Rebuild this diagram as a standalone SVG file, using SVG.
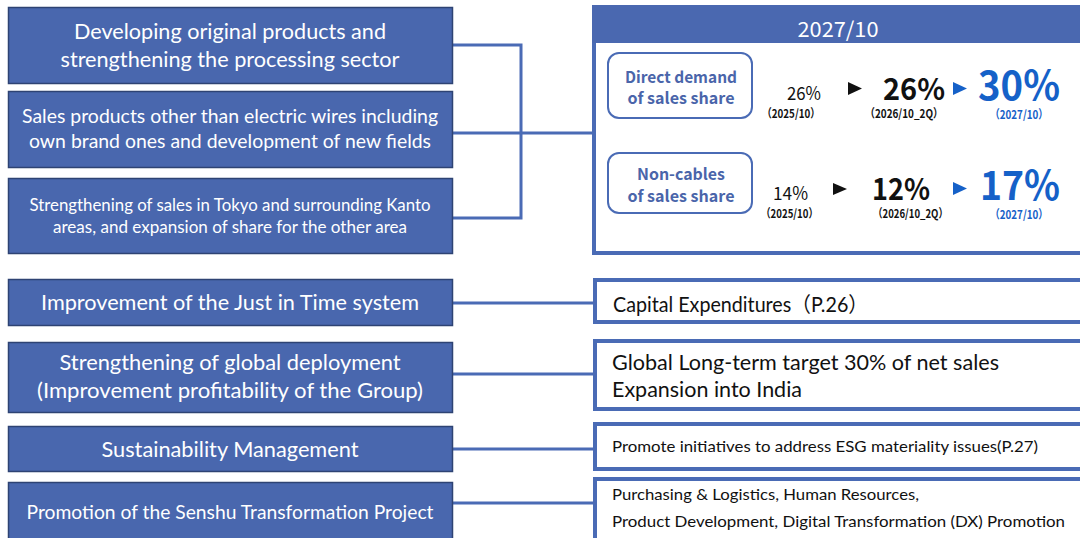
<svg xmlns="http://www.w3.org/2000/svg" width="1080" height="538" viewBox="0 0 1080 538">
<style>
.lb{fill:#4967AE;stroke:#2E4373;stroke-width:1.5}
.lt{fill:#FFFFFF;font-family:Lato,"Open Sans","Liberation Sans",sans-serif;text-anchor:middle}
.rb{fill:#FFFFFF;stroke:#4A6BB5;stroke-width:4}
.rt{fill:#111111;font-family:Lato,"Open Sans","Liberation Sans","Noto Sans CJK JP",sans-serif}
.con{fill:none;stroke:#4A6BB5;stroke-width:3}
.jp{font-family:"Noto Sans CJK JP","Liberation Sans",sans-serif}
.rr{fill:#FFFFFF;stroke:#4A6BB5;stroke-width:2}
.rrt{fill:#4A65AA;font-weight:bold;font-size:16px;text-anchor:middle}
.blk{fill:#111111}
.blu{fill:#1561C8}
</style>
<rect width="1080" height="538" fill="#FFFFFF"/>
<g id="connectors">
<path class="con" d="M453,45 H521 V218 H453"/>
<path class="con" d="M453,133 H594"/>
<path class="con" d="M453,303 H594"/>
<path class="con" d="M453,374 H594"/>
<path class="con" d="M453,449 H594"/>
<path class="con" d="M453,503 H594"/>
</g>
<g id="node-developing">
<rect class="lb" x="8.5" y="7.5" width="444" height="76"/>
<text class="lt" x="230" y="39" font-size="21" textLength="312" lengthAdjust="spacingAndGlyphs">Developing original products and</text>
<text class="lt" x="230" y="67" font-size="21" textLength="339" lengthAdjust="spacingAndGlyphs">strengthening the processing sector</text>
</g>
<g id="node-sales-products">
<rect class="lb" x="8.5" y="91.5" width="444" height="76"/>
<text class="lt" x="230" y="123" font-size="19" textLength="416" lengthAdjust="spacingAndGlyphs">Sales products other than electric wires including</text>
<text class="lt" x="230" y="148" font-size="19" textLength="402" lengthAdjust="spacingAndGlyphs">own brand ones and development of new fields</text>
</g>
<g id="node-tokyo">
<rect class="lb" x="8.5" y="178.5" width="444" height="75"/>
<text class="lt" x="230" y="211" font-size="17" textLength="401" lengthAdjust="spacingAndGlyphs">Strengthening of sales in Tokyo and surrounding Kanto</text>
<text class="lt" x="230" y="233" font-size="17" textLength="354" lengthAdjust="spacingAndGlyphs">areas, and expansion of share for the other area</text>
</g>
<g id="node-jit">
<rect class="lb" x="8.5" y="279.5" width="444" height="46"/>
<text class="lt" x="230" y="310" font-size="21" textLength="378" lengthAdjust="spacingAndGlyphs">Improvement of the Just in Time system</text>
</g>
<g id="node-global">
<rect class="lb" x="8.5" y="342.5" width="444" height="70"/>
<text class="lt" x="230" y="370" font-size="21" textLength="341" lengthAdjust="spacingAndGlyphs">Strengthening of global deployment</text>
<text class="lt" x="230" y="398" font-size="21" textLength="386" lengthAdjust="spacingAndGlyphs">(Improvement profitability of the Group)</text>
</g>
<g id="node-sustainability">
<rect class="lb" x="8.5" y="426.5" width="444" height="45"/>
<text class="lt" x="230" y="457" font-size="21" textLength="257" lengthAdjust="spacingAndGlyphs">Sustainability Management</text>
</g>
<g id="node-senshu">
<rect class="lb" x="8.5" y="482.5" width="444" height="70"/>
<text class="lt" x="230" y="519" font-size="19" textLength="407" lengthAdjust="spacingAndGlyphs">Promotion of the Senshu Transformation Project</text>
</g>
<g id="node-target-panel">
<rect x="594" y="7" width="500" height="246" fill="#FFFFFF" stroke="#4A6BB5" stroke-width="4"/>
<rect x="592" y="5" width="500" height="38" fill="#4A68B0"/>
<text class="jp" x="838" y="37" font-size="21" fill="#FFFFFF" text-anchor="middle" textLength="81" lengthAdjust="spacingAndGlyphs">2027/10</text>
<g id="node-direct-demand">
<rect class="rr" x="608" y="53" width="144" height="65" rx="11"/>
<text class="jp rrt" x="681" y="83" textLength="112" lengthAdjust="spacingAndGlyphs">Direct demand</text>
<text class="jp rrt" x="681" y="104" textLength="107" lengthAdjust="spacingAndGlyphs">of sales share</text>
</g>
<text class="jp blk" x="787" y="100" font-size="18" textLength="34" lengthAdjust="spacingAndGlyphs">26%</text>
<text class="jp blk" x="762" y="118" font-size="12" font-weight="bold" textLength="58" lengthAdjust="spacingAndGlyphs">（2025/10）</text>
<polygon class="blk" points="848,82 862,88.5 848,95"/>
<text class="jp blk" x="883" y="100" font-size="30" font-weight="bold" textLength="62" lengthAdjust="spacingAndGlyphs">26%</text>
<text class="jp blk" x="865" y="118" font-size="12" font-weight="bold" textLength="78" lengthAdjust="spacingAndGlyphs">（2026/10_2Q）</text>
<polygon class="blu" points="953,82 967,88.5 953,95"/>
<text class="jp blu" x="978" y="100" font-size="40" font-weight="bold" textLength="82" lengthAdjust="spacingAndGlyphs">30%</text>
<text class="jp blu" x="990" y="119" font-size="12" font-weight="bold" textLength="58" lengthAdjust="spacingAndGlyphs">（2027/10）</text>
<g id="node-non-cables">
<rect class="rr" x="608" y="153" width="144" height="60" rx="11"/>
<text class="jp rrt" x="681" y="180" textLength="88" lengthAdjust="spacingAndGlyphs">Non-cables</text>
<text class="jp rrt" x="681" y="202" textLength="107" lengthAdjust="spacingAndGlyphs">of sales share</text>
</g>
<text class="jp blk" x="773" y="200" font-size="18" textLength="35" lengthAdjust="spacingAndGlyphs">14%</text>
<text class="jp blk" x="761" y="218" font-size="12" font-weight="bold" textLength="57" lengthAdjust="spacingAndGlyphs">（2025/10）</text>
<polygon class="blk" points="833,183 847,189 833,195"/>
<text class="jp blk" x="872" y="200" font-size="30" font-weight="bold" textLength="58" lengthAdjust="spacingAndGlyphs">12%</text>
<text class="jp blk" x="873" y="218" font-size="12" font-weight="bold" textLength="75" lengthAdjust="spacingAndGlyphs">（2026/10_2Q）</text>
<polygon class="blu" points="953,182 967,188.5 953,195"/>
<text class="jp blu" x="980" y="200" font-size="40" font-weight="bold" textLength="80" lengthAdjust="spacingAndGlyphs">17%</text>
<text class="jp blu" x="990" y="219" font-size="12" font-weight="bold" textLength="58" lengthAdjust="spacingAndGlyphs">（2027/10）</text>
</g>
<g id="node-capex">
<rect class="rb" x="595" y="280" width="500" height="42"/>
<text class="rt" x="613" y="312" font-size="21" textLength="255" lengthAdjust="spacingAndGlyphs">Capital Expenditures（P.26）</text>
</g>
<g id="node-global-target">
<rect class="rb" x="595" y="341" width="500" height="68"/>
<text class="rt" x="612" y="370" font-size="21" textLength="387" lengthAdjust="spacingAndGlyphs">Global Long-term target 30% of net sales</text>
<text class="rt" x="612" y="397" font-size="21" textLength="190" lengthAdjust="spacingAndGlyphs">Expansion into India</text>
</g>
<g id="node-esg">
<rect class="rb" x="595" y="424" width="500" height="45"/>
<text class="rt" x="612" y="452" font-size="16" textLength="426" lengthAdjust="spacingAndGlyphs">Promote initiatives to address ESG materiality issues(P.27)</text>
</g>
<g id="node-transformation">
<rect class="rb" x="595" y="479" width="500" height="70"/>
<text class="rt" x="612" y="500" font-size="16" textLength="307" lengthAdjust="spacingAndGlyphs">Purchasing &amp; Logistics, Human Resources,</text>
<text class="rt" x="612" y="527" font-size="16" textLength="453" lengthAdjust="spacingAndGlyphs">Product Development, Digital Transformation (DX) Promotion</text>
</g>
</svg>
